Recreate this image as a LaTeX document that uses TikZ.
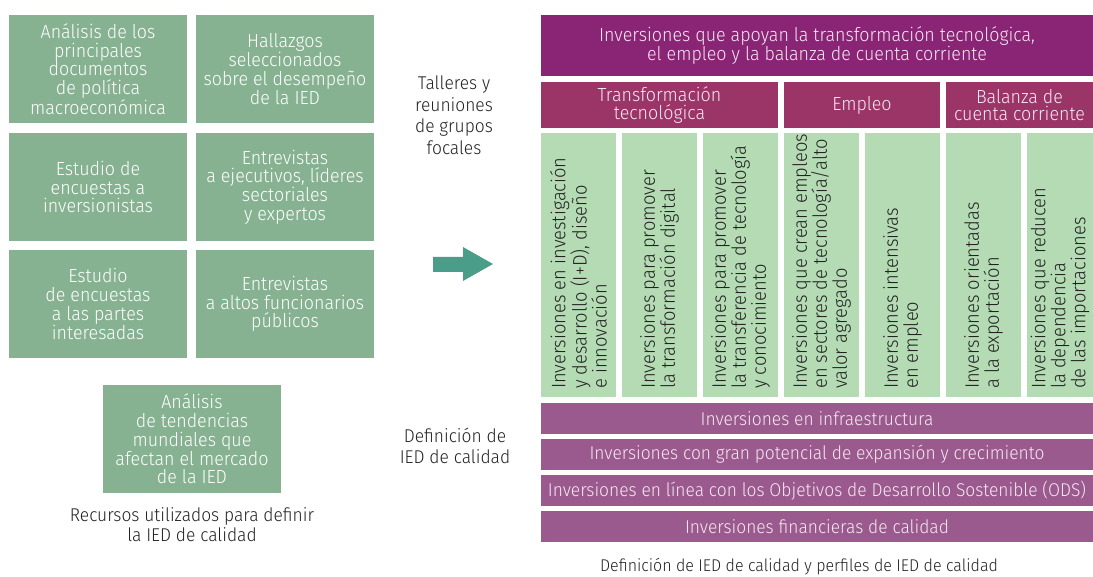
\documentclass[tikz,border=0pt]{standalone}
\usepackage{fontspec}
\setmainfont[FakeStretch=0.94, UprightFont=* Light]{Fira Sans}
\definecolor{lgreen}{HTML}{86B291}
\definecolor{cgreen}{HTML}{B4DBB4}
\definecolor{hpurple}{HTML}{8A2475}
\definecolor{spurple}{HTML}{9B3467}
\definecolor{bpurple}{HTML}{9A5A8E}
\definecolor{arrowc}{HTML}{4A9E89}
\definecolor{ptext}{HTML}{F7E8F2}
\definecolor{dtext}{HTML}{222222}
\newcommand\myfs{\fontsize{19}{18.7}\selectfont}
\begin{document}
\begin{tikzpicture}[x=1pt,y=-1pt,
  lbox/.style={fill=lgreen, minimum width=178pt, minimum height=108pt, inner sep=0pt, align=center, text=white, font=\myfs},
  hbox/.style={fill=hpurple, minimum width=552pt, minimum height=61pt, inner sep=0pt, align=center, text=ptext, font=\fontsize{19}{19}\selectfont},
  sbox/.style={fill=spurple, minimum height=46pt, inner sep=0pt, align=center, text=ptext, font=\fontsize{19}{17.5}\selectfont},
  cbox/.style={fill=cgreen, minimum width=75pt, minimum height=264pt, inner sep=0pt},
  ctext/.style={rotate=90, anchor=west, align=left, inner sep=0pt, text=dtext, font=\fontsize{19.5}{20}\selectfont},
  bbar/.style={fill=bpurple, minimum width=552pt, minimum height=31pt, inner sep=0pt, align=center, text=ptext, font=\fontsize{18.5}{20}\selectfont},
  caption/.style={align=center, inner sep=0pt, text=dtext, font=\fontsize{18.5}{20}\selectfont}]
\useasboundingbox (0,0) rectangle (1093,577);
% left boxes
\node[lbox] (b1) at (98,69) {Análisis de los\\principales\\documentos\\de política\\macroeconómica};
\node[lbox] (b2) at (285,69) {Hallazgos\\seleccionados\\sobre el desempeño\\de la IED};
\node[lbox] (b3) at (98,187) {Estudio de\\encuestas a\\inversionistas};
\node[lbox] (b4) at (285,187) {Entrevistas\\a ejecutivos, líderes\\sectoriales\\y expertos};
\node[lbox] (b5) at (98,304) {Estudio\\de encuestas\\a las partes\\interesadas};
\node[lbox] (b6) at (285,304) {Entrevistas\\a altos funcionarios\\públicos};
\node[lbox] (b7) at (192,439) {Análisis\\de tendencias\\mundiales que\\afectan el mercado\\de la IED};
\node[caption] (cap1) at (192,525) {Recursos utilizados para definir\\la IED de calidad};
% middle
\node[caption, font=\fontsize{18.5}{21.5}\selectfont] (talleres) at (454,115) {Talleres y\\reuniones\\de grupos\\focales};
\node[caption, font=\fontsize{18.5}{21.5}\selectfont] (defi) at (455,446) {Definición de\\IED de calidad};
\fill[arrowc] (433,257) -- (463,257) -- (463,247) -- (493,264) -- (463,281) -- (463,272) -- (433,272) -- cycle;
% right
\node[hbox] (top) at (817,45.5) {Inversiones que apoyan la transformación tecnológica,\\el empleo y la balanza de cuenta corriente};
\node[sbox, minimum width=237pt] (s1) at (659.5,105) {Transformación\\tecnológica};
\node[sbox, minimum width=156pt] (s2) at (862,105) {Empleo};
\node[sbox, minimum width=147pt] (s3) at (1019.5,105) {Balanza de\\cuenta corriente};
\node[cbox] (c1) at (578.5,265) {};
\node[cbox] (c2) at (659.5,265) {};
\node[cbox] (c3) at (740.5,265) {};
\node[cbox] (c4) at (821.5,265) {};
\node[cbox] (c5) at (902.5,265) {};
\node[cbox] (c6) at (983.5,265) {};
\node[cbox, minimum width=66pt] (c7) at (1060,265) {};
\node[ctext] (t1) at (578.5,389) {Inversiones en investigación\\y desarrollo (I+D), diseño\\e innovación};
\node[ctext] (t2) at (659.5,389) {Inversiones para promover\\la transformación digital};
\node[ctext] (t3) at (740.5,389) {Inversiones para promover\\la transferencia de tecnología\\y conocimiento};
\node[ctext] (t4) at (821.5,389) {Inversiones que crean empleos\\en sectores de tecnología/alto\\valor agregado};
\node[ctext] (t5) at (902.5,389) {Inversiones intensivas\\en empleo};
\node[ctext] (t6) at (983.5,389) {Inversiones orientadas\\a la exportación};
\node[ctext] (t7) at (1060,389) {Inversiones que reducen\\la dependencia\\de las importaciones};
\node[bbar] (r1) at (817,418.5) {Inversiones en infraestructura};
\node[bbar] (r2) at (817,454.5) {Inversiones con gran potencial de expansión y crecimiento};
\node[bbar] (r3) at (817,490.5) {Inversiones en línea con los Objetivos de Desarrollo Sostenible (ODS)};
\node[bbar] (r4) at (817,526.5) {Inversiones financieras de calidad};
\node[caption, font=\fontsize{17}{20}\selectfont] (cap2) at (799,567) {Definición de IED de calidad y perfiles de IED de calidad};
\end{tikzpicture}
\end{document}
